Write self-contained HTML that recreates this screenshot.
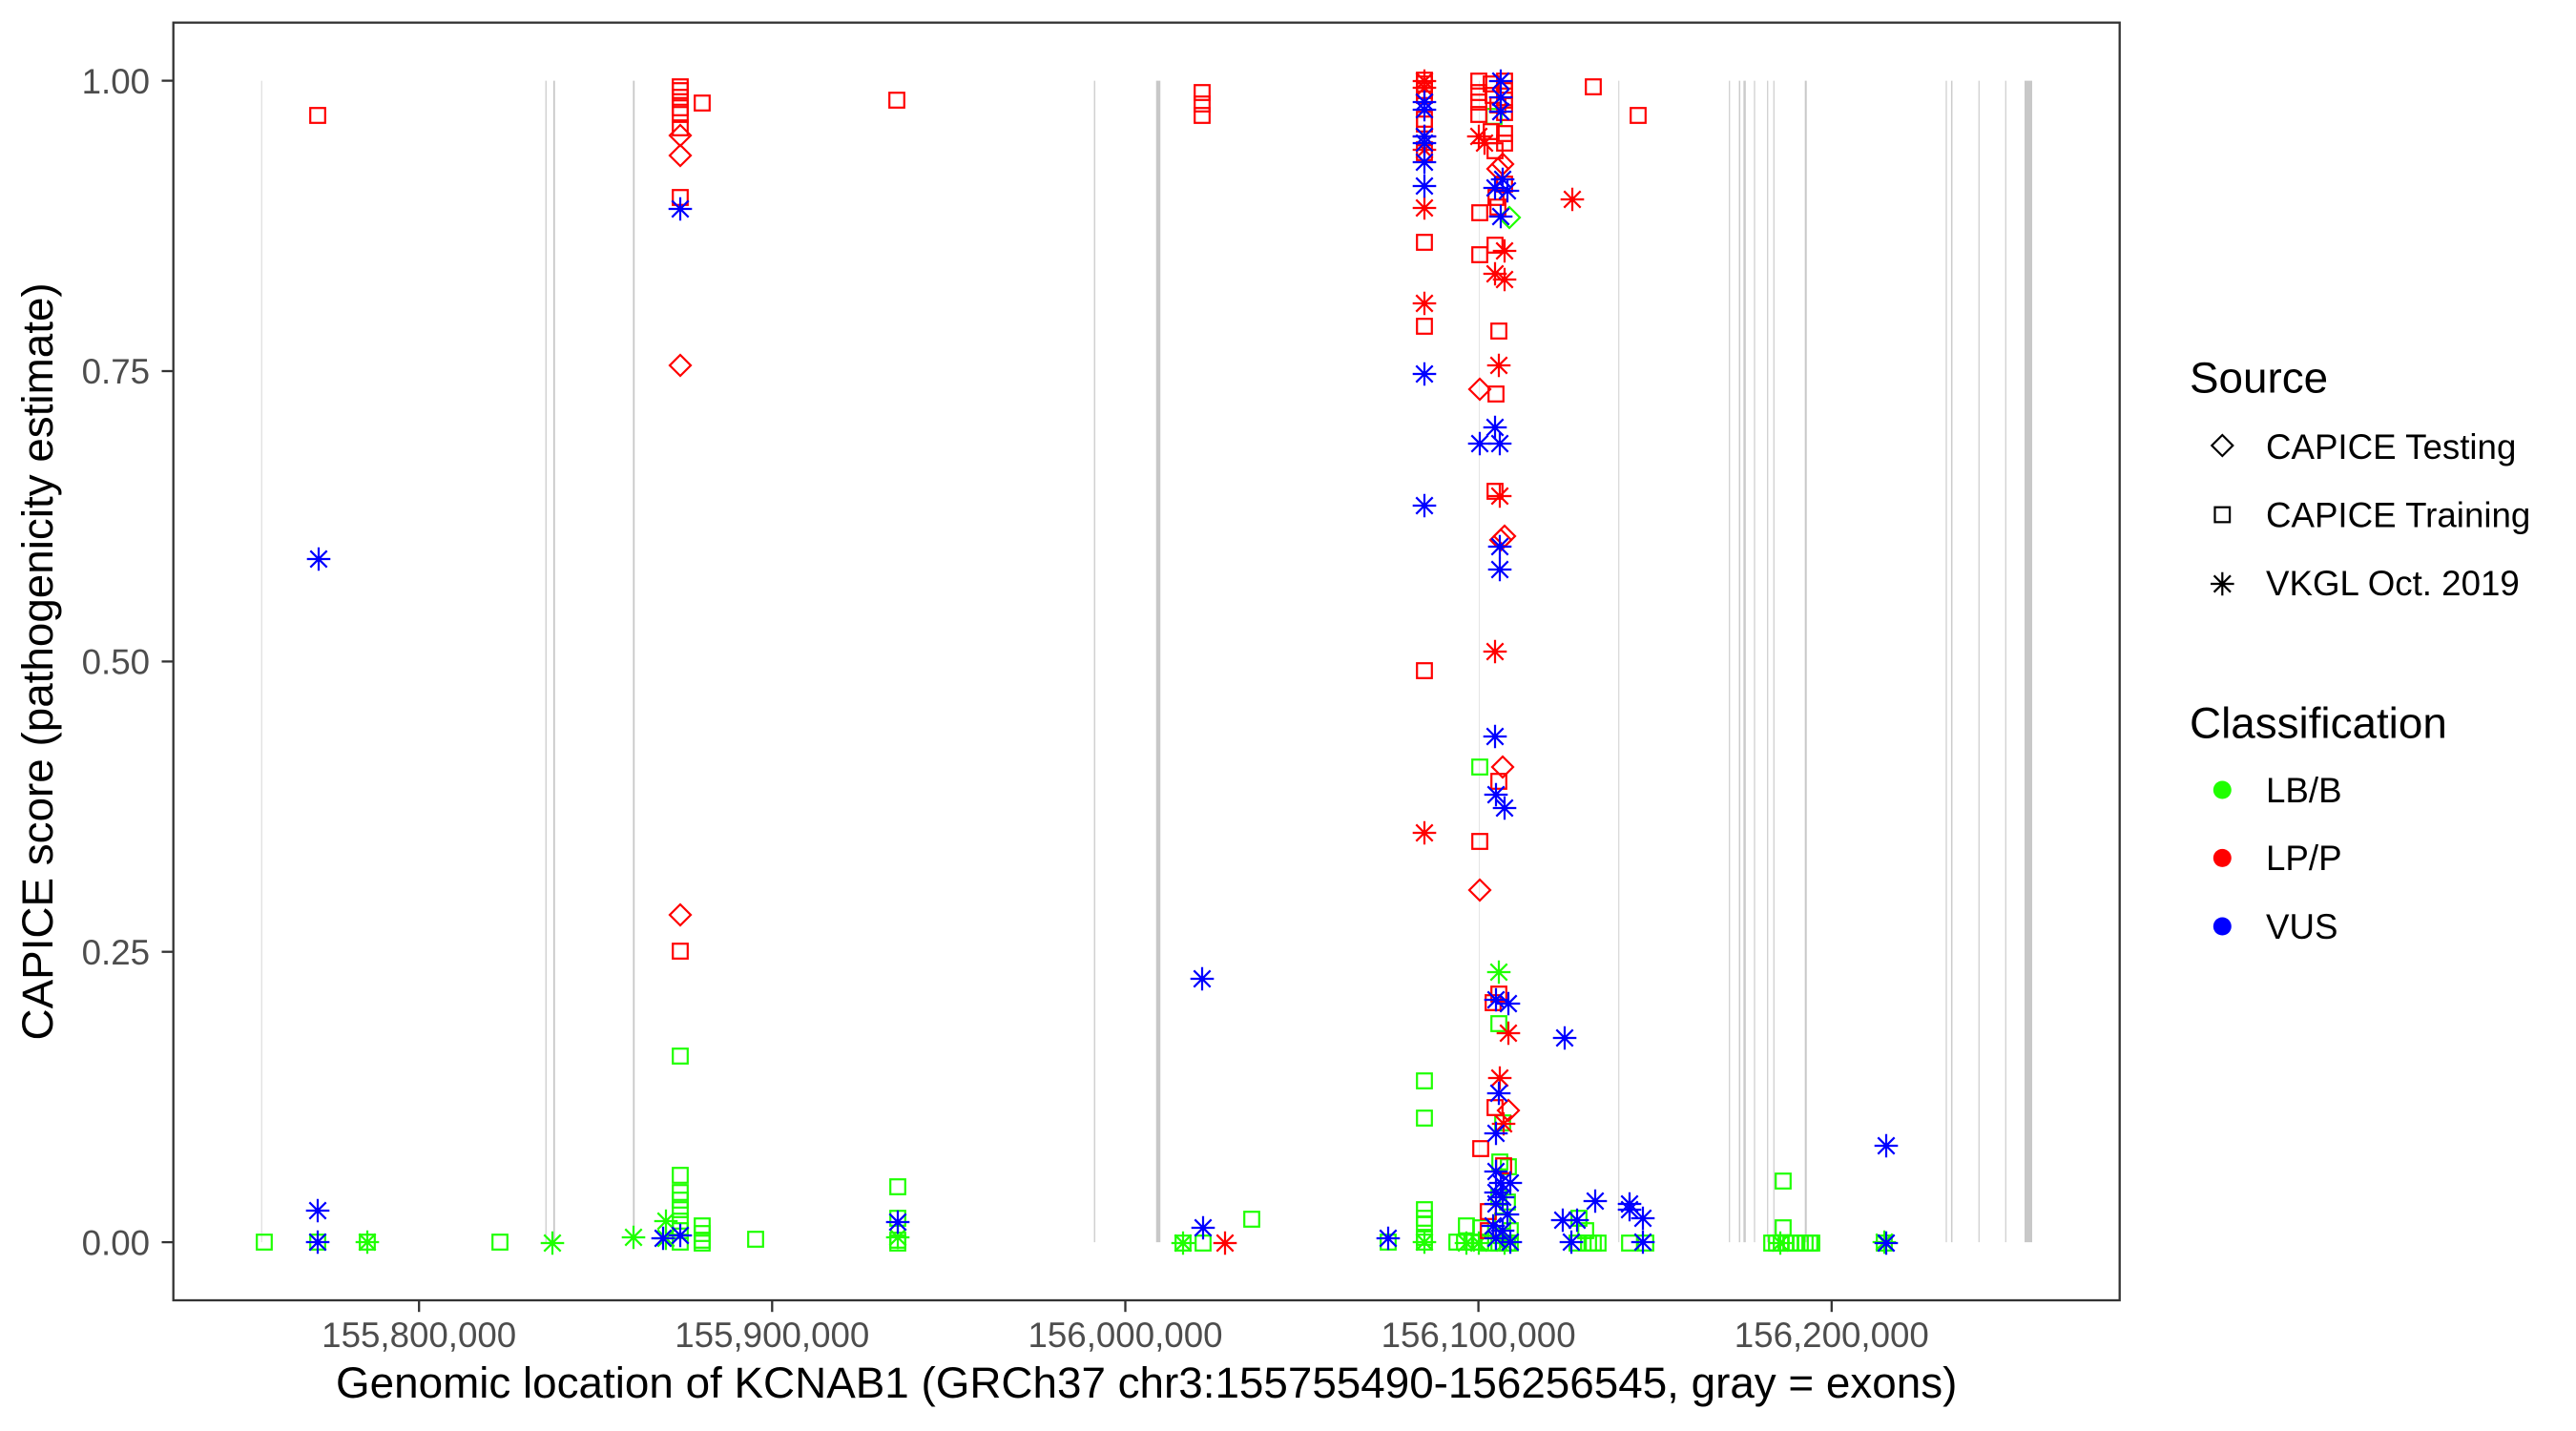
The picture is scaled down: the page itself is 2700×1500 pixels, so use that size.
<!DOCTYPE html>
<html>
<head>
<meta charset="utf-8">
<style>
html,body{margin:0;padding:0;background:#fff;}
svg{display:block;}
text{font-family:"Liberation Sans",Arial,Helvetica,sans-serif;}
</style>
</head>
<body>
<svg width="2700" height="1500" viewBox="0 0 2700 1500" xmlns="http://www.w3.org/2000/svg">
<defs>
<rect id="S" x="-7.8" y="-7.8" width="15.6" height="15.6"/>
<path id="D" d="M0,-11 L11,0 L0,11 L-11,0Z"/>
<path id="A" d="M-12.3,0H12.3M0,-12.3V12.3M-8.7,-8.7L8.7,8.7M-8.7,8.7L8.7,-8.7"/>
</defs>
<rect x="0" y="0" width="2700" height="1500" fill="#fff"/>

<!-- exon lines -->
<g>
<line x1="274.3" y1="84.6" x2="274.3" y2="1302.1" stroke="#e0e0e0" stroke-width="1.3"/>
<line x1="572.3" y1="84.6" x2="572.3" y2="1302.1" stroke="#d2d2d2" stroke-width="1.5"/>
<line x1="580.8" y1="84.6" x2="580.8" y2="1302.1" stroke="#c8c8c8" stroke-width="1.8"/>
<line x1="664.3" y1="84.6" x2="664.3" y2="1302.1" stroke="#c8c8c8" stroke-width="1.8"/>
<line x1="1147.3" y1="84.6" x2="1147.3" y2="1302.1" stroke="#d0d0d0" stroke-width="1.5"/>
<line x1="1214" y1="84.6" x2="1214" y2="1302.1" stroke="#c8c8c8" stroke-width="4.5"/>
<line x1="1550.5" y1="84.6" x2="1550.5" y2="1302.1" stroke="#e6e6e6" stroke-width="1.1"/>
<line x1="1696.7" y1="84.6" x2="1696.7" y2="1302.1" stroke="#d8d8d8" stroke-width="1.3"/>
<line x1="1812.7" y1="84.6" x2="1812.7" y2="1302.1" stroke="#d0d0d0" stroke-width="1.3"/>
<line x1="1823.3" y1="84.6" x2="1823.3" y2="1302.1" stroke="#cccccc" stroke-width="1.5"/>
<line x1="1828.6" y1="84.6" x2="1828.6" y2="1302.1" stroke="#cccccc" stroke-width="2.5"/>
<line x1="1839" y1="84.6" x2="1839" y2="1302.1" stroke="#d0d0d0" stroke-width="1.3"/>
<line x1="1852.7" y1="84.6" x2="1852.7" y2="1302.1" stroke="#d0d0d0" stroke-width="1.3"/>
<line x1="1859.3" y1="84.6" x2="1859.3" y2="1302.1" stroke="#d0d0d0" stroke-width="1.3"/>
<line x1="1892.7" y1="84.6" x2="1892.7" y2="1302.1" stroke="#c8c8c8" stroke-width="2"/>
<line x1="2040" y1="84.6" x2="2040" y2="1302.1" stroke="#d0d0d0" stroke-width="1.3"/>
<line x1="2045.7" y1="84.6" x2="2045.7" y2="1302.1" stroke="#cccccc" stroke-width="1.5"/>
<line x1="2074.3" y1="84.6" x2="2074.3" y2="1302.1" stroke="#d0d0d0" stroke-width="1.3"/>
<line x1="2102.3" y1="84.6" x2="2102.3" y2="1302.1" stroke="#d0d0d0" stroke-width="1.3"/>
<line x1="2126" y1="84.6" x2="2126" y2="1302.1" stroke="#c8c8c8" stroke-width="8"/>
</g>

<!-- green points -->
<g stroke="#1fff00" stroke-width="2.2" fill="none">
<use href="#S" x="277" y="1302"/><use href="#S" x="333" y="1302"/><use href="#S" x="385" y="1302"/><use href="#S" x="524" y="1302"/>
<use href="#S" x="713" y="1107"/><use href="#S" x="713" y="1232"/><use href="#S" x="713" y="1250"/><use href="#S" x="713" y="1258"/>
<use href="#S" x="713" y="1268"/><use href="#S" x="713" y="1280"/><use href="#S" x="713" y="1290"/><use href="#S" x="713" y="1302"/>
<use href="#S" x="736" y="1285"/><use href="#S" x="736" y="1293"/><use href="#S" x="736" y="1300"/><use href="#S" x="736" y="1303"/>
<use href="#S" x="792" y="1299"/><use href="#S" x="941" y="1244"/><use href="#S" x="941" y="1277"/><use href="#S" x="941" y="1300"/><use href="#S" x="941" y="1303"/>
<use href="#S" x="1240" y="1303"/><use href="#S" x="1261" y="1303"/><use href="#S" x="1312" y="1278"/><use href="#S" x="1455" y="1302"/>
<use href="#S" x="1493" y="1133"/><use href="#S" x="1493" y="1172"/><use href="#S" x="1493" y="1268"/><use href="#S" x="1493" y="1277"/>
<use href="#S" x="1493" y="1283"/><use href="#S" x="1493" y="1297"/><use href="#S" x="1493" y="1302"/>
<use href="#S" x="1527" y="1302"/><use href="#S" x="1535" y="1302"/><use href="#S" x="1537" y="1285"/><use href="#S" x="1545" y="1302"/>
<use href="#S" x="1552" y="1287"/><use href="#S" x="1552" y="1302"/><use href="#S" x="1560" y="1303"/>
<use href="#S" x="1551" y="804"/><use href="#S" x="1566" y="122"/><use href="#S" x="1571" y="1073"/><use href="#S" x="1575" y="1177"/>
<use href="#S" x="1572" y="1218"/><use href="#S" x="1581" y="1223"/><use href="#S" x="1571" y="1255"/><use href="#S" x="1580" y="1260"/>
<use href="#S" x="1575" y="1280"/><use href="#S" x="1583" y="1290"/><use href="#S" x="1571" y="1303"/><use href="#S" x="1580" y="1303"/><use href="#S" x="1583" y="1303"/>
<use href="#S" x="1653" y="1303"/><use href="#S" x="1655" y="1277"/><use href="#S" x="1662" y="1290"/><use href="#S" x="1665" y="1303"/>
<use href="#S" x="1670" y="1303"/><use href="#S" x="1675" y="1303"/><use href="#S" x="1708" y="1303"/><use href="#S" x="1725" y="1303"/>
<use href="#S" x="1857" y="1303"/><use href="#S" x="1862" y="1303"/><use href="#S" x="1867" y="1303"/><use href="#S" x="1872" y="1303"/>
<use href="#S" x="1877" y="1303"/><use href="#S" x="1882" y="1303"/><use href="#S" x="1887" y="1303"/><use href="#S" x="1892" y="1303"/>
<use href="#S" x="1897" y="1303"/><use href="#S" x="1899" y="1303"/><use href="#S" x="1869" y="1238"/><use href="#S" x="1869" y="1287"/>
<use href="#S" x="1975" y="1303"/>
<use href="#A" x="385" y="1302"/><use href="#A" x="579" y="1303"/><use href="#A" x="664" y="1297"/><use href="#A" x="698" y="1280"/>
<use href="#A" x="698" y="1298"/><use href="#A" x="941" y="1297"/><use href="#A" x="1240" y="1303"/><use href="#A" x="1493" y="1302"/>
<use href="#A" x="1537" y="1303"/><use href="#A" x="1550" y="1303"/><use href="#A" x="1571" y="1019"/><use href="#A" x="1866" y="1303"/>
<use href="#A" x="1975" y="1302"/><use href="#A" x="1577" y="1303"/>
<use href="#D" x="1582" y="228"/>
</g>

<!-- red points -->
<g stroke="#ff0000" stroke-width="2.2" fill="none">
<use href="#S" x="333" y="121"/><use href="#S" x="713" y="91"/><use href="#S" x="713" y="95"/><use href="#S" x="713" y="102"/>
<use href="#S" x="713" y="113"/><use href="#S" x="713" y="120"/><use href="#S" x="713" y="134"/><use href="#S" x="713" y="207"/>
<use href="#S" x="713" y="997"/><use href="#S" x="736" y="108"/><use href="#S" x="940" y="105"/>
<use href="#S" x="1260" y="97"/><use href="#S" x="1260" y="109"/><use href="#S" x="1260" y="121"/>
<use href="#S" x="1493" y="84"/><use href="#S" x="1493" y="88"/><use href="#S" x="1493" y="95"/><use href="#S" x="1493" y="100"/>
<use href="#S" x="1493" y="125"/><use href="#S" x="1493" y="130"/><use href="#S" x="1493" y="160"/><use href="#S" x="1493" y="254"/>
<use href="#S" x="1493" y="342"/><use href="#S" x="1493" y="703"/>
<use href="#S" x="1550" y="85"/><use href="#S" x="1550" y="97"/><use href="#S" x="1550" y="107"/><use href="#S" x="1550" y="120"/>
<use href="#S" x="1577" y="85"/><use href="#S" x="1577" y="95"/><use href="#S" x="1577" y="105"/><use href="#S" x="1577" y="118"/>
<use href="#S" x="1563" y="88"/><use href="#S" x="1565" y="100"/><use href="#S" x="1570" y="110"/><use href="#S" x="1563" y="138"/>
<use href="#S" x="1577" y="140"/><use href="#S" x="1577" y="150"/><use href="#S" x="1567" y="158"/><use href="#S" x="1577" y="193"/>
<use href="#S" x="1568" y="207"/><use href="#S" x="1570" y="217"/><use href="#S" x="1551" y="223"/><use href="#S" x="1567" y="257"/>
<use href="#S" x="1551" y="267"/><use href="#S" x="1571" y="347"/><use href="#S" x="1568" y="413"/><use href="#S" x="1567" y="515"/>
<use href="#S" x="1571" y="819"/><use href="#S" x="1551" y="882"/><use href="#S" x="1571" y="1042"/><use href="#S" x="1565" y="1051"/>
<use href="#S" x="1567" y="1161"/><use href="#S" x="1552" y="1204"/><use href="#S" x="1576" y="1222"/><use href="#S" x="1560" y="1270"/>
<use href="#S" x="1560" y="1290"/><use href="#S" x="1670" y="91"/><use href="#S" x="1717" y="121"/>
<use href="#D" x="713" y="142"/><use href="#D" x="713" y="163"/><use href="#D" x="713" y="383"/><use href="#D" x="713" y="959"/>
<use href="#D" x="1575" y="172"/><use href="#D" x="1570" y="177"/><use href="#D" x="1551" y="408"/><use href="#D" x="1577" y="562"/>
<use href="#D" x="1573" y="566"/><use href="#D" x="1575" y="804"/><use href="#D" x="1551" y="933"/><use href="#D" x="1581" y="1164"/>
<use href="#A" x="1284" y="1303"/><use href="#A" x="1493" y="85"/><use href="#A" x="1493" y="92"/><use href="#A" x="1493" y="143"/>
<use href="#A" x="1493" y="157"/><use href="#A" x="1493" y="218"/><use href="#A" x="1493" y="318"/><use href="#A" x="1493" y="873"/>
<use href="#A" x="1550" y="143"/><use href="#A" x="1556" y="150"/><use href="#A" x="1577" y="263"/><use href="#A" x="1567" y="287"/>
<use href="#A" x="1577" y="293"/><use href="#A" x="1571" y="383"/><use href="#A" x="1572" y="520"/><use href="#A" x="1567" y="683"/>
<use href="#A" x="1581" y="1083"/><use href="#A" x="1572" y="1130"/><use href="#A" x="1576" y="1178"/><use href="#A" x="1648" y="209"/>
</g>

<!-- blue points -->
<g stroke="#0000ff" stroke-width="2.2" fill="none">
<use href="#A" x="333" y="1269"/><use href="#A" x="333" y="1302"/><use href="#A" x="334" y="586"/><use href="#A" x="695" y="1298"/>
<use href="#A" x="713" y="1295"/><use href="#A" x="713" y="219"/><use href="#A" x="941" y="1281"/><use href="#A" x="1260" y="1026"/>
<use href="#A" x="1261" y="1287"/><use href="#A" x="1455" y="1298"/>
<use href="#A" x="1493" y="107"/><use href="#A" x="1493" y="115"/><use href="#A" x="1493" y="143"/><use href="#A" x="1493" y="150"/>
<use href="#A" x="1493" y="170"/><use href="#A" x="1493" y="195"/><use href="#A" x="1493" y="392"/><use href="#A" x="1493" y="530"/>
<use href="#A" x="1573" y="85"/><use href="#A" x="1573" y="102"/><use href="#A" x="1573" y="117"/><use href="#A" x="1575" y="188"/>
<use href="#A" x="1567" y="197"/><use href="#A" x="1580" y="200"/><use href="#A" x="1573" y="227"/><use href="#A" x="1567" y="448"/>
<use href="#A" x="1551" y="465"/><use href="#A" x="1572" y="465"/><use href="#A" x="1572" y="573"/><use href="#A" x="1572" y="597"/>
<use href="#A" x="1567" y="772"/><use href="#A" x="1568" y="833"/><use href="#A" x="1577" y="847"/><use href="#A" x="1568" y="1048"/>
<use href="#A" x="1581" y="1052"/><use href="#A" x="1571" y="1146"/><use href="#A" x="1568" y="1188"/><use href="#A" x="1568" y="1228"/>
<use href="#A" x="1573" y="1240"/><use href="#A" x="1583" y="1240"/><use href="#A" x="1568" y="1250"/><use href="#A" x="1575" y="1255"/>
<use href="#A" x="1568" y="1262"/><use href="#A" x="1580" y="1273"/><use href="#A" x="1565" y="1285"/><use href="#A" x="1575" y="1290"/>
<use href="#A" x="1568" y="1298"/><use href="#A" x="1583" y="1302"/>
<use href="#A" x="1640" y="1088"/><use href="#A" x="1638" y="1279"/><use href="#A" x="1653" y="1279"/><use href="#A" x="1647" y="1302"/>
<use href="#A" x="1672" y="1259"/><use href="#A" x="1708" y="1262"/><use href="#A" x="1708" y="1268"/><use href="#A" x="1722" y="1277"/>
<use href="#A" x="1722" y="1302"/><use href="#A" x="1977" y="1201"/><use href="#A" x="1977" y="1303"/>
</g>

<!-- panel border -->
<rect x="181.7" y="23.7" width="2040" height="1339.3" fill="none" stroke="#333333" stroke-width="2.3"/>

<!-- y ticks -->
<g stroke="#333333" stroke-width="2.3">
<line x1="169.5" y1="84.6" x2="181.7" y2="84.6"/>
<line x1="169.5" y1="389" x2="181.7" y2="389"/>
<line x1="169.5" y1="693.4" x2="181.7" y2="693.4"/>
<line x1="169.5" y1="997.7" x2="181.7" y2="997.7"/>
<line x1="169.5" y1="1302.1" x2="181.7" y2="1302.1"/>
</g>
<g font-size="36.7" fill="#4d4d4d" text-anchor="end">
<text x="157" y="97.8">1.00</text>
<text x="157" y="402.2">0.75</text>
<text x="157" y="706.6">0.50</text>
<text x="157" y="1010.9">0.25</text>
<text x="157" y="1315.3">0.00</text>
</g>

<!-- x ticks -->
<g stroke="#333333" stroke-width="2.3">
<line x1="439.2" y1="1363" x2="439.2" y2="1375.2"/>
<line x1="809.3" y1="1363" x2="809.3" y2="1375.2"/>
<line x1="1179.5" y1="1363" x2="1179.5" y2="1375.2"/>
<line x1="1549.6" y1="1363" x2="1549.6" y2="1375.2"/>
<line x1="1919.8" y1="1363" x2="1919.8" y2="1375.2"/>
</g>
<g font-size="36.7" fill="#4d4d4d" text-anchor="middle">
<text x="439.2" y="1412">155,800,000</text>
<text x="809.3" y="1412">155,900,000</text>
<text x="1179.5" y="1412">156,000,000</text>
<text x="1549.6" y="1412">156,100,000</text>
<text x="1919.8" y="1412">156,200,000</text>
</g>

<!-- axis titles -->
<text x="1201.7" y="1465" font-size="45.8" fill="#000" text-anchor="middle">Genomic location of KCNAB1 (GRCh37 chr3:155755490-156256545, gray = exons)</text>
<text transform="translate(55,693.4) rotate(-90)" x="0" y="0" font-size="45.8" fill="#000" text-anchor="middle">CAPICE score (pathogenicity estimate)</text>

<!-- legend -->
<text x="2295" y="411.6" font-size="45.8" fill="#000">Source</text>
<g stroke="#000" stroke-width="2.2" fill="none">
<use href="#D" x="2329.3" y="467"/>
<use href="#S" x="2329.3" y="539.5"/>
<use href="#A" x="2329.3" y="612"/>
</g>
<g font-size="36.7" fill="#000">
<text x="2375" y="481">CAPICE Testing</text>
<text x="2375" y="552.5">CAPICE Training</text>
<text x="2375" y="624">VKGL Oct. 2019</text>
</g>
<text x="2295" y="773.6" font-size="45.8" fill="#000">Classification</text>
<circle cx="2329.3" cy="828" r="9.5" fill="#1fff00"/>
<circle cx="2329.3" cy="899.4" r="9.5" fill="#ff0000"/>
<circle cx="2329.3" cy="971" r="9.5" fill="#0000ff"/>
<g font-size="36.7" fill="#000">
<text x="2375" y="841">LB/B</text>
<text x="2375" y="912">LP/P</text>
<text x="2375" y="984">VUS</text>
</g>
</svg>
</body>
</html>
